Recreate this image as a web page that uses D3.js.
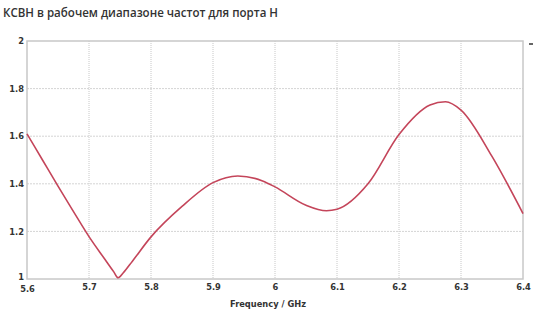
<!DOCTYPE html>
<html>
<head>
<meta charset="utf-8">
<script src="https://cdn.jsdelivr.net/npm/d3@7"></script>
<style>
  body { margin: 0; background: #fff; }
  svg { display: block; }
</style>
</head>
<body>
<svg id="vis-svg" width="550" height="318"></svg>
<script>
var width  = 550;
var height = 318;
var margin = { top: 41, bottom: 39, left: 27, right: 27 };
const graphHeight = height - margin.top - margin.bottom;
const graphWidth = width - margin.left - margin.right;

// data
const freq = [5.60, 5.625, 5.65, 5.675, 5.70, 5.725, 5.74, 5.747, 5.755, 5.77, 5.80, 5.85, 5.90, 5.94, 5.98, 6.00, 6.05, 6.083, 6.10, 6.15, 6.20, 6.25, 6.275, 6.30, 6.35, 6.40];
const vswr = [1.61, 1.50, 1.39, 1.283, 1.178, 1.085, 1.03, 1.005, 1.025, 1.075, 1.177, 1.305, 1.405, 1.433, 1.412, 1.387, 1.31, 1.287, 1.293, 1.40, 1.607, 1.731, 1.745, 1.71, 1.515, 1.275];
const xTicks = [5.6, 5.7, 5.8, 5.9, 6, 6.1, 6.2, 6.3, 6.4];
const yTicks = [1, 1.2, 1.4, 1.6, 1.8, 2];
const title = "КСВН в рабочем диапазоне частот для порта Н";
const xTitle = "Frequency / GHz";

const svg = d3.select("#vis-svg");

const x = d3.scaleLinear().domain([5.6, 6.4]).range([0, graphWidth]);
const y = d3.scaleLinear().domain([1, 2]).range([graphHeight, 0]);

svg.append("text")
  .attr("x", 3).attr("y", 17)
  .attr("font-family", "Open Sans")
  .attr("font-weight", 600)
  .attr("font-size", 12.5)
  .attr("textLength", 275)
  .attr("lengthAdjust", "spacingAndGlyphs")
  .attr("fill", "#333")
  .text(title);

const graph = svg.append("g").attr("transform", `translate(${margin.left},${margin.top})`);

graph.append("rect")
  .attr("width", graphWidth).attr("height", graphHeight)
  .attr("fill", "#fff");

// grid
graph.selectAll(".vgrid").data(xTicks.slice(1, -1)).enter()
  .append("line")
  .attr("x1", d => x(d)).attr("x2", d => x(d))
  .attr("y1", 0).attr("y2", graphHeight)
  .attr("stroke", "#c8c8c8").attr("stroke-dasharray", "1,1");
graph.selectAll(".hgrid").data(yTicks.slice(1, -1)).enter()
  .append("line")
  .attr("y1", d => y(d)).attr("y2", d => y(d))
  .attr("x1", 0).attr("x2", graphWidth)
  .attr("stroke", "#d4d4d4").attr("stroke-dasharray", "2,1");

graph.append("rect")
  .attr("width", graphWidth).attr("height", graphHeight)
  .attr("fill", "none").attr("stroke", "#c8c8c8").attr("stroke-width", 1.5);

// axes
const xAxis = graph.append("g")
  .attr("transform", `translate(0,${graphHeight})`)
  .call(d3.axisBottom(x).tickValues(xTicks).tickFormat(d3.format("")).tickSize(0).tickPadding(5));
const yAxis = graph.append("g")
  .call(d3.axisLeft(y).tickValues(yTicks).tickFormat(d3.format("")).tickSize(0).tickPadding(3));
[xAxis, yAxis].forEach(a => {
  a.select(".domain").remove();
  a.selectAll("text")
    .attr("font-family", "DejaVu Sans")
    .attr("font-weight", "bold")
    .attr("font-size", 8.3)
    .attr("fill", "#333");
});
yAxis.selectAll(".tick").filter(d => d === 1).select("text").attr("dy", "0.05em");
xAxis.selectAll(".tick").filter(d => d === 5.6).select("text").attr("dy", "0.95em");

svg.append("text")
  .attr("x", 268).attr("y", 307)
  .attr("text-anchor", "middle")
  .attr("font-family", "DejaVu Sans")
  .attr("font-weight", "bold")
  .attr("font-size", 8.3)
  .attr("fill", "#333")
  .text(xTitle);

// small mark right of the plot
svg.append("line")
  .attr("x1", margin.left + graphWidth + 6).attr("x2", margin.left + graphWidth + 10)
  .attr("y1", margin.top + 3).attr("y2", margin.top + 3)
  .attr("stroke", "#333").attr("stroke-width", 1.5);

// curve
const line = d3.line()
  .x((d, i) => x(freq[i]))
  .y(d => y(d))
  .curve(d3.curveMonotoneX);

graph.append("path")
  .datum(vswr)
  .attr("fill", "none")
  .attr("stroke", "#c4455a")
  .attr("stroke-width", 1.6)
  .attr("d", line);
</script>
</body>
</html>
